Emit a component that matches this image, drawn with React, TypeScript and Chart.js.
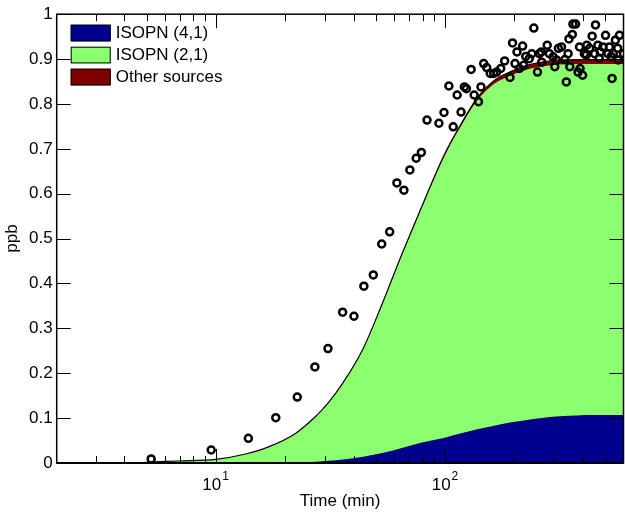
import React, { useEffect, useRef } from "react";
import { Chart, registerables } from "chart.js";

Chart.register(...registerables);

// Model time grid (min)
const times = [2, 4.29, 5.14, 6.94, 10, 13.5, 17, 22.3, 27.2, 30.9, 35.9, 43.9, 52.6, 64.2, 78.4, 92.6, 102.3, 115.3, 138, 163.5, 191.7, 227.2, 269, 315.6, 443, 600];

// Model contributions (ppb)
const isopn41 = [0, 0, 0, 0, 0, 0, 0.0003, 0.0012, 0.003, 0.005, 0.008, 0.014, 0.0215, 0.033, 0.045, 0.053, 0.058, 0.065, 0.075, 0.083, 0.09, 0.096, 0.101, 0.104, 0.107, 0.107];
const isopn21 = [0, 0, 0.002, 0.0045, 0.008, 0.02, 0.0357, 0.0648, 0.0998, 0.128, 0.1699, 0.2392, 0.325, 0.4245, 0.518, 0.5965, 0.638, 0.6785, 0.732, 0.7615, 0.7725, 0.7805, 0.783, 0.784, 0.782, 0.782];
const otherSources = [0, 0, 0, 0, 0, 0, 0, 0, 0.0002, 0.0004, 0.0006, 0.001, 0.0015, 0.002, 0.003, 0.0035, 0.004, 0.0045, 0.006, 0.0075, 0.0085, 0.0095, 0.01, 0.01, 0.01, 0.01];

// Observations
const obsTime = [5.24, 9.57, 13.9, 18.3, 22.7, 27.1, 30.9, 35.8, 40.1, 44.3, 48.7, 53, 57.4, 61.7, 66.2, 70.3, 74.9, 78.9, 83.5, 94.1, 99, 104, 108.6, 113, 117.5, 121.5, 124, 130, 134, 140, 143.5, 147.5, 152, 157.5, 163, 168, 175, 182, 192, 197, 202, 206, 211, 218, 220, 225, 233, 239, 244, 253, 258, 263, 264, 279, 285, 296, 301, 306, 312, 322, 333, 338, 344, 347, 350, 359, 361, 371, 380, 386, 388, 398, 405, 413, 415, 427, 438, 449, 453, 464, 470, 475, 488, 501, 513, 521, 530, 535, 542, 553, 566, 569, 576, 600];
const obsPpb = [0.009, 0.029, 0.055, 0.101, 0.147, 0.214, 0.255, 0.336, 0.327, 0.394, 0.419, 0.488, 0.515, 0.624, 0.608, 0.653, 0.679, 0.692, 0.764, 0.757, 0.781, 0.84, 0.749, 0.82, 0.782, 0.838, 0.834, 0.877, 0.82, 0.805, 0.838, 0.89, 0.881, 0.868, 0.868, 0.871, 0.879, 0.896, 0.859, 0.936, 0.89, 0.916, 0.879, 0.929, 0.886, 0.906, 0.901, 0.912, 0.969, 0.871, 0.912, 0.916, 0.893, 0.931, 0.912, 0.905, 0.883, 0.898, 0.924, 0.927, 0.899, 0.849, 0.912, 0.945, 0.883, 0.955, 0.978, 0.978, 0.871, 0.927, 0.879, 0.864, 0.912, 0.909, 0.931, 0.924, 0.951, 0.912, 0.976, 0.931, 0.902, 0.916, 0.927, 0.953, 0.912, 0.927, 0.906, 0.857, 0.912, 0.942, 0.924, 0.898, 0.953, 0.912];

// Axis ticks
const yTickValues = [0, 0.1, 0.2, 0.3, 0.4, 0.5, 0.6, 0.7, 0.8, 0.9, 1];
const xMajorTicks = [10, 100];
const xMinorTicks = [3, 4, 5, 6, 7, 8, 9, 20, 30, 40, 50, 60, 70, 80, 90, 200, 300, 400, 500];
const xTickExponents = ["1", "2"];

const legendLabels = ["ISOPN (4,1)", "ISOPN (2,1)", "Other sources"];
const COLORS = ["#00008F", "#8CFF70", "#800000"];
const FONT = '"Liberation Sans", Arial, Helvetica, sans-serif';

const decor = {
  id: "decor",
  afterDraw(chart: any) {
    const { ctx, chartArea: a, scales } = chart;
    const x = scales.x;
    const y = scales.y;
    ctx.save();
    ctx.strokeStyle = "#000";
    ctx.lineWidth = 1;
    yTickValues.forEach((v) => {
      const py = Math.round(y.getPixelForValue(v)) + 0.5;
      ctx.beginPath();
      ctx.moveTo(a.left, py);
      ctx.lineTo(a.left + 14, py);
      ctx.moveTo(a.right, py);
      ctx.lineTo(a.right - 14, py);
      ctx.stroke();
    });
    const xTick = (v: number, len: number) => {
      const px = Math.round(x.getPixelForValue(v)) + 0.5;
      ctx.beginPath();
      ctx.moveTo(px, a.bottom);
      ctx.lineTo(px, a.bottom - len);
      ctx.moveTo(px, a.top);
      ctx.lineTo(px, a.top + len);
      ctx.stroke();
    };
    xMajorTicks.forEach((v) => xTick(v, 14));
    xMinorTicks.forEach((v) => xTick(v, 7));
    ctx.lineWidth = 1.5;
    ctx.strokeRect(a.left, a.top, a.right - a.left, a.bottom - a.top);
    ctx.lineWidth = 2;
    ctx.beginPath();
    ctx.moveTo(a.left, a.bottom);
    ctx.lineTo(a.right, a.bottom);
    ctx.stroke();

    ctx.fillStyle = "#000";
    xMajorTicks.forEach((v, i) => {
      const px = x.getPixelForValue(v);
      ctx.font = `17px ${FONT}`;
      const w1 = ctx.measureText("10").width;
      ctx.font = `12px ${FONT}`;
      const w2 = ctx.measureText(xTickExponents[i]).width;
      const start = px - (w1 + 1 + w2) / 2;
      ctx.textAlign = "left";
      ctx.textBaseline = "alphabetic";
      ctx.font = `17px ${FONT}`;
      ctx.fillText("10", start, 489.5);
      ctx.font = `12px ${FONT}`;
      ctx.fillText(xTickExponents[i], start + w1 + 1, 479.5);
    });

    ctx.font = `17px ${FONT}`;
    ctx.textBaseline = "middle";
    ctx.textAlign = "left";
    legendLabels.forEach((label, i) => {
      const bx = a.left + 14;
      const by = a.top + 10.5 + i * 22;
      ctx.fillStyle = COLORS[i];
      ctx.fillRect(bx, by, 40, 16.7);
      ctx.lineWidth = 1;
      ctx.strokeStyle = "#000";
      ctx.strokeRect(bx + 0.5, by + 0.5, 39, 15.7);
      ctx.fillStyle = "#000";
      ctx.fillText(label, bx + 45, by + 8.8);
    });
    ctx.restore();
  },
};

export default function App() {
  const ref = useRef<HTMLCanvasElement | null>(null);
  useEffect(() => {
    if (!ref.current) return;
    const s1 = times.map((t, i) => ({ x: t, y: isopn41[i] }));
    const s2 = times.map((t, i) => ({ x: t, y: isopn41[i] + isopn21[i] }));
    const s3 = times.map((t, i) => ({ x: t, y: isopn41[i] + isopn21[i] + otherSources[i] }));
    const obs = obsTime.map((t, i) => ({ x: t, y: obsPpb[i] }));
    const chart = new Chart(ref.current, {
      type: "line",
      data: {
        datasets: [
          {
            label: legendLabels[0],
            data: s1,
            backgroundColor: COLORS[0],
            borderColor: "#000040",
            borderWidth: 1,
            fill: "origin",
            pointRadius: 0,
            cubicInterpolationMode: "monotone",
            order: 3,
          },
          {
            label: legendLabels[1],
            data: s2,
            backgroundColor: COLORS[1],
            borderColor: "rgba(0,0,0,0)",
            borderWidth: 0,
            fill: "-1",
            pointRadius: 0,
            cubicInterpolationMode: "monotone",
            order: 2,
          },
          {
            label: legendLabels[2],
            data: s3,
            backgroundColor: COLORS[2],
            borderColor: "#000",
            borderWidth: 1.2,
            fill: "-1",
            pointRadius: 0,
            cubicInterpolationMode: "monotone",
            order: 1,
          },
          {
            type: "scatter",
            label: "Observed",
            data: obs,
            showLine: false,
            pointRadius: 3.5,
            pointBorderWidth: 2.5,
            pointBorderColor: "#000",
            pointBackgroundColor: "rgba(0,0,0,0)",
            order: 0,
          } as any,
        ],
      },
      options: {
        animation: false,
        responsive: false,
        devicePixelRatio: 1,
        layout: { padding: { top: 14, right: 2.6, left: 0, bottom: 0 } },
        plugins: { legend: { display: false }, tooltip: { enabled: false } },
        scales: {
          x: {
            type: "logarithmic",
            min: 2.03,
            max: 600,
            grid: { display: false },
            border: { display: false },
            ticks: { display: false },
            title: {
              display: true,
              text: "Time (min)",
              color: "#000",
              font: { family: FONT, size: 17 },
              padding: { top: 0, bottom: 1 },
            },
            afterFit: (scale: any) => {
              scale.height = 50;
            },
          },
          y: {
            type: "linear",
            min: 0,
            max: 1,
            grid: { display: false, drawTicks: false },
            border: { display: false },
            ticks: {
              stepSize: 0.1,
              padding: 4,
              color: "#000",
              font: { family: FONT, size: 17 },
              callback: (v: any) => {
                const n = Number(v);
                if (Math.abs(n) < 1e-9) return "0";
                if (Math.abs(n - 1) < 1e-9) return "1";
                return n.toFixed(1);
              },
            },
            title: {
              display: true,
              text: "ppb",
              color: "#000",
              font: { family: FONT, size: 17 },
              padding: { top: 2, bottom: 4 },
            },
            afterFit: (scale: any) => {
              scale.width = 56.7;
            },
          },
        },
      },
      plugins: [decor],
    });
    return () => chart.destroy();
  }, []);
  return (
    <div style={{ position: "fixed", left: 0, top: 0, width: 625, height: 513, overflow: "hidden", background: "#fff" }}>
      <canvas ref={ref} width={630} height={513} style={{ width: 630, height: 513, display: "block" }} />
    </div>
  );
}
